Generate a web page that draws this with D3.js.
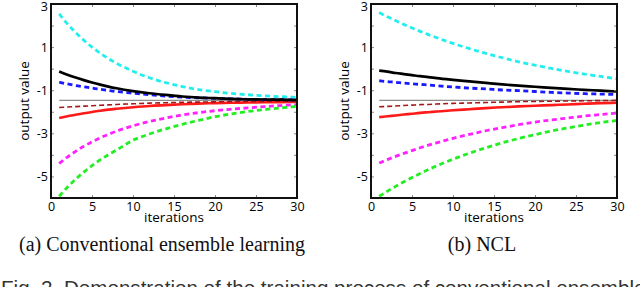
<!DOCTYPE html>
<html>
<head>
<meta charset="utf-8">
<script src="https://cdn.jsdelivr.net/npm/d3@7/dist/d3.min.js"></script>
<style>
  html, body { margin: 0; padding: 0; background: #fff; }
  svg { display: block; }
  .tick text { font-family: "Open Sans", sans-serif; font-size: 12.5px; fill: #000; }
  .axis-label { font-family: "Open Sans", sans-serif; font-size: 13.5px; fill: #000; }
  .caption { font-family: "Liberation Serif", "Times New Roman", serif; font-size: 20px; fill: #111; }
  .fig { font-family: "Liberation Sans", Arial, sans-serif; font-size: 20.6px; fill: #333; }
</style>
</head>
<body>
<svg id="chart" width="640" height="287"></svg>
<script>
var iterations = [1, 2, 3, 4, 5, 6, 7, 8, 10, 12, 14, 16, 18, 20, 22, 24, 26, 28, 30];

// (a) conventional ensemble learning
var convCyan    = [2.54, 2.08, 1.68, 1.32, 1.00, 0.72, 0.47, 0.25, -0.12, -0.42, -0.65, -0.83, -0.97, -1.07, -1.15, -1.21, -1.26, -1.30, -1.33];
var convBlack   = [-0.13, -0.28, -0.41, -0.53, -0.64, -0.74, -0.83, -0.91, -1.04, -1.14, -1.22, -1.29, -1.34, -1.37, -1.40, -1.42, -1.43, -1.44, -1.45];
var convBlue    = [-0.63, -0.71, -0.78, -0.84, -0.90, -0.96, -1.01, -1.06, -1.14, -1.21, -1.27, -1.32, -1.35, -1.38, -1.40, -1.42, -1.43, -1.44, -1.45];
var convGrey    = [-1.47, -1.47, -1.47, -1.47, -1.47, -1.47, -1.47, -1.47, -1.47, -1.47, -1.47, -1.47, -1.47, -1.47, -1.47, -1.47, -1.47, -1.47, -1.47];
var convDarkRed = [-1.80, -1.78, -1.76, -1.74, -1.72, -1.70, -1.68, -1.66, -1.63, -1.60, -1.58, -1.56, -1.55, -1.54, -1.53, -1.52, -1.52, -1.51, -1.51];
var convRed     = [-2.29, -2.21, -2.14, -2.07, -2.01, -1.95, -1.90, -1.86, -1.79, -1.73, -1.69, -1.65, -1.62, -1.60, -1.58, -1.57, -1.56, -1.55, -1.54];
var convMagenta = [-4.40, -4.10, -3.84, -3.60, -3.40, -3.21, -3.05, -2.90, -2.65, -2.45, -2.29, -2.15, -2.04, -1.95, -1.88, -1.82, -1.76, -1.71, -1.67];
var convGreen   = [-5.92, -5.50, -5.13, -4.80, -4.50, -4.23, -3.99, -3.77, -3.32, -3.03, -2.79, -2.58, -2.40, -2.23, -2.10, -1.99, -1.90, -1.82, -1.75];

// (b) NCL
var nclCyan    = [2.60, 2.41, 2.23, 2.05, 1.89, 1.73, 1.58, 1.44, 1.17, 0.93, 0.71, 0.51, 0.32, 0.16, 0.01, -0.13, -0.25, -0.36, -0.47];
var nclBlack   = [-0.09, -0.14, -0.20, -0.25, -0.30, -0.35, -0.39, -0.44, -0.52, -0.59, -0.66, -0.73, -0.79, -0.84, -0.89, -0.94, -0.98, -1.02, -1.06];
var nclBlue    = [-0.56, -0.60, -0.63, -0.67, -0.70, -0.73, -0.76, -0.79, -0.85, -0.90, -0.94, -0.99, -1.02, -1.06, -1.10, -1.13, -1.16, -1.18, -1.20];
var nclGrey    = [-1.47, -1.47, -1.47, -1.47, -1.47, -1.47, -1.47, -1.47, -1.47, -1.47, -1.47, -1.47, -1.47, -1.47, -1.47, -1.47, -1.47, -1.47, -1.47];
var nclDarkRed = [-1.77, -1.75, -1.73, -1.71, -1.69, -1.67, -1.66, -1.64, -1.61, -1.59, -1.57, -1.55, -1.53, -1.52, -1.51, -1.50, -1.49, -1.48, -1.47];
var nclRed     = [-2.25, -2.21, -2.17, -2.13, -2.09, -2.05, -2.02, -1.99, -1.93, -1.88, -1.83, -1.79, -1.75, -1.72, -1.69, -1.66, -1.63, -1.60, -1.58];
var nclMagenta = [-4.38, -4.22, -4.07, -3.93, -3.80, -3.67, -3.55, -3.44, -3.23, -3.05, -2.88, -2.74, -2.60, -2.48, -2.38, -2.29, -2.20, -2.13, -2.06];
var nclGreen   = [-5.92, -5.69, -5.46, -5.25, -5.05, -4.86, -4.68, -4.51, -4.20, -3.92, -3.67, -3.44, -3.24, -3.06, -2.89, -2.75, -2.62, -2.50, -2.40];

var yTickLabels = [3, 1, -1, -3, -5];
var xTickLabels = [0, 5, 10, 15, 20, 25, 30];

var captions = ['(a) Conventional ensemble learning', '(b) NCL'];
var figText = 'Fig. 2. Demonstration of the training process of conventional ensemble learning and NCL';

// line styles, drawn back to front
var styles = [
  {color: '#8c8c8c', width: 1.3, dash: null},
  {color: '#ff1a1a', width: 2.6, dash: null},
  {color: '#9e1a1a', width: 1.6, dash: '5,3'},
  {color: '#ff22ff', width: 2.8, dash: '5,3.5'},
  {color: '#22ee22', width: 2.8, dash: '5,3.5'},
  {color: '#22eeee', width: 2.8, dash: '5,3.5'},
  {color: '#1a1aff', width: 2.8, dash: '5,3.5'},
  {color: '#000000', width: 2.7, dash: null}
];

var panels = [
  {left: 51, series: [convGrey, convRed, convDarkRed, convMagenta, convGreen, convCyan, convBlue, convBlack], caption: captions[0], captionX: 162},
  {left: 371, series: [nclGrey, nclRed, nclDarkRed, nclMagenta, nclGreen, nclCyan, nclBlue, nclBlack], caption: captions[1], captionX: 482}
];

var plotW = 246, plotTop = 4, plotBottom = 198;

var svg = d3.select('#chart');

function translate(x, y) {
  return 'translate(' + (x || 0) + ', ' + (y || 0) + ')';
}

panels.forEach(function(panel) {
  var x = d3.scaleLinear().domain([0, 30]).range([0, plotW]);
  var y = d3.scaleLinear().domain([-6, 3]).range([plotBottom - plotTop, 0]);
  var h = plotBottom - plotTop;

  var g = svg.append('g').attr('transform', translate(panel.left, plotTop));

  var line = d3.line()
    .x(function(d, i) { return x(iterations[i]); })
    .y(function(d) { return y(d); })
    .curve(d3.curveMonotoneX);

  g.append('defs').append('clipPath')
    .attr('id', 'clip' + panel.left)
    .append('rect').attr('width', plotW).attr('height', h);

  var lines = g.append('g').attr('clip-path', 'url(#clip' + panel.left + ')');
  panel.series.forEach(function(values, i) {
    var s = styles[i];
    lines.append('path')
      .attr('d', line(values))
      .attr('fill', 'none')
      .attr('stroke', s.color)
      .attr('stroke-width', s.width)
      .attr('stroke-dasharray', s.dash);
  });

  // inner minor ticks on all four sides
  var yTicks = d3.range(-6, 4);
  var xTicks = d3.range(0, 31, 5);

  var yAxis = d3.axisLeft(y).tickValues(yTicks).tickSizeInner(-3).tickSizeOuter(0).tickPadding(3)
    .tickFormat(function(d) { return yTickLabels.indexOf(d) >= 0 ? d : ''; });
  var xAxis = d3.axisBottom(x).tickValues(xTicks).tickSizeInner(-3).tickSizeOuter(0).tickPadding(4)
    .tickFormat(function(d) { return xTickLabels.indexOf(d) >= 0 ? d : ''; });

  var ya = g.append('g').call(yAxis);
  var xa = g.append('g').attr('transform', translate(0, h)).call(xAxis);
  var yr = g.append('g').attr('transform', translate(plotW, 0))
    .call(d3.axisRight(y).tickValues(yTicks).tickSizeInner(-3).tickSizeOuter(0).tickFormat(''));
  var xt = g.append('g')
    .call(d3.axisTop(x).tickValues(xTicks).tickSizeInner(-3).tickSizeOuter(0).tickFormat(''));

  [ya, xa, yr, xt].forEach(function(a) {
    a.select('.domain').remove();
    a.selectAll('.tick line').attr('stroke', '#888');
  });

  // top label sits just inside the picture
  ya.selectAll('.tick text').filter(function(d) { return d === 3; }).attr('y', 2.5);

  g.append('rect')
    .attr('width', plotW).attr('height', h)
    .attr('fill', 'none').attr('stroke', '#111').attr('stroke-width', 2);

  g.append('text')
    .attr('class', 'axis-label')
    .attr('text-anchor', 'middle')
    .attr('transform', translate(-22, h / 2) + ' rotate(-90)')
    .text('output value');

  g.append('text')
    .attr('class', 'axis-label')
    .attr('text-anchor', 'middle')
    .attr('x', plotW / 2).attr('y', h + 23.5)
    .text('iterations');

  svg.append('text')
    .attr('class', 'caption')
    .attr('text-anchor', 'middle')
    .attr('x', panel.captionX).attr('y', 251)
    .text(panel.caption);
});

svg.append('text')
  .attr('class', 'fig')
  .attr('x', 1).attr('y', 294.5)
  .text(figText);
</script>
</body>
</html>
